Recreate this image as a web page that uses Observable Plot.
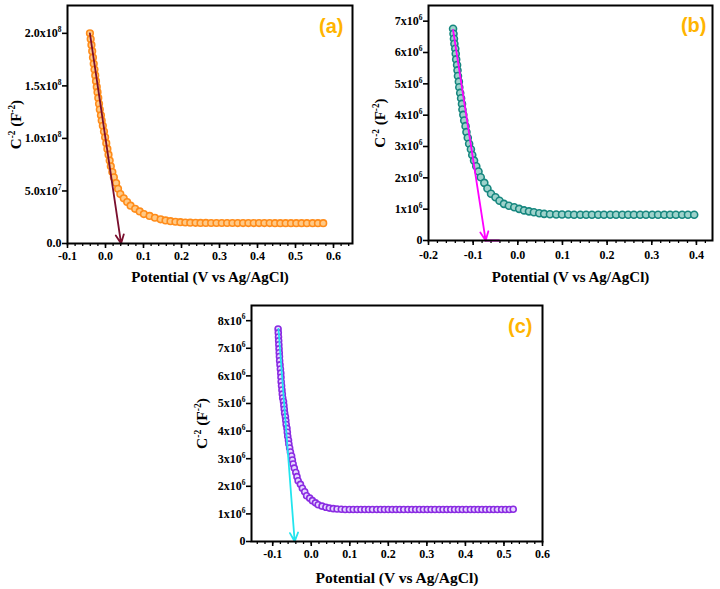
<!DOCTYPE html>
<html><head><meta charset="utf-8">
<script src="https://cdn.jsdelivr.net/npm/d3@7"></script>
<script src="https://cdn.jsdelivr.net/npm/@observablehq/plot@0.6"></script>
<style>
html,body{margin:0;padding:0;background:#fff;}
#wrap{position:relative;width:720px;height:589px;overflow:hidden;background:#fff;}
.panel{position:absolute;}
.panel svg{font-family:'Liberation Serif','DejaVu Serif',serif !important;font-weight:bold !important;}
</style></head><body><div id="wrap"></div>
<script>
// ---------- Panel (a): potential (V) and C^-2 (x10^6 F^-2) ----------
const aV = [-0.041,-0.039,-0.037,-0.035,-0.033,-0.031,-0.029,-0.027,-0.025,-0.023,-0.021,-0.019,-0.017,-0.015,-0.012,-0.010,-0.007,-0.004,-0.001,0.002,0.005,0.008,0.011,0.014,0.018,0.022,0.028,0.033,0.039,0.048,0.057,0.066,0.078,0.090,0.101,0.116,0.130,0.145,0.158,0.171,0.184,0.197,0.210,0.223,0.237,0.250,0.264,0.278,0.292,0.306,0.320,0.334,0.348,0.362,0.376,0.390,0.404,0.418,0.432,0.446,0.460,0.474,0.488,0.502,0.516,0.530,0.545,0.559,0.573];
const aC = [200,194.5,189,183,177,171,165.5,160,154.5,149,144,138.5,133,127.5,122,117,112,106.5,101,95.5,90,84.5,79,73.5,68,63,57.5,52,47,43,39.5,36,33,30.5,28,26.2,24.5,23,22,21.2,20.7,20.3,20.0,19.8,19.7,19.6,19.6,19.5,19.5,19.5,19.5,19.5,19.4,19.4,19.4,19.4,19.4,19.4,19.4,19.3,19.3,19.3,19.3,19.3,19.3,19.3,19.3,19.3,19.3];
const aArrow = {x1:-0.041, y1:200, x2:0.041, y2:0};
const aFit = {x:[0.215,0.373], y:[19.5,19.4]};
const aXTicks = [-0.1,0,0.1,0.2,0.3,0.4,0.5,0.6];
const aYTicks = [0,50,100,150,200];
const aYLabels = ["0.0","5.0x10^7","1.0x10^8","1.5x10^8","2.0x10^8"];

// ---------- Panel (b): potential (V) and C^-2 (x10^6 F^-2) ----------
const bV = [-0.145,-0.144,-0.143,-0.142,-0.140,-0.139,-0.138,-0.136,-0.135,-0.134,-0.132,-0.131,-0.129,-0.127,-0.125,-0.124,-0.122,-0.120,-0.117,-0.115,-0.112,-0.109,-0.105,-0.102,-0.098,-0.093,-0.088,-0.083,-0.075,-0.068,-0.060,-0.050,-0.041,-0.031,-0.020,-0.008,0.003,0.014,0.025,0.036,0.048,0.059,0.072,0.086,0.099,0.113,0.126,0.140,0.153,0.166,0.180,0.193,0.207,0.220,0.234,0.247,0.260,0.274,0.287,0.301,0.314,0.328,0.341,0.354,0.368,0.381,0.395];
const bC = [6.76,6.60,6.44,6.28,6.12,5.96,5.78,5.60,5.43,5.25,5.07,4.89,4.71,4.54,4.36,4.18,4.01,3.83,3.65,3.46,3.28,3.09,2.91,2.73,2.55,2.37,2.20,2.02,1.84,1.66,1.49,1.38,1.27,1.17,1.11,1.06,1.01,0.96,0.93,0.90,0.87,0.85,0.84,0.83,0.83,0.83,0.82,0.82,0.82,0.82,0.82,0.82,0.82,0.82,0.82,0.82,0.82,0.82,0.82,0.82,0.82,0.82,0.82,0.82,0.82,0.82,0.82];
const bArrow = {x1:-0.145, y1:6.72, x2:-0.072, y2:0};
const bFit = {x:[0.1,0.4], y:[0.82,0.82]};
const bBase = {x:[-0.072,-0.042], y:[0,0]};
const bXTicks = [-0.2,-0.1,0,0.1,0.2,0.3,0.4];
const bYTicks = [0,1,2,3,4,5,6,7];
const bYLabels = ["0","1x10^6","2x10^6","3x10^6","4x10^6","5x10^6","6x10^6","7x10^6"];

// ---------- Panel (c): potential (V) and C^-2 (x10^6 F^-2) ----------
const cV = [-0.086,-0.0855,-0.085,-0.0845,-0.084,-0.0835,-0.083,-0.0825,-0.082,-0.081,-0.080,-0.079,-0.0785,-0.078,-0.077,-0.076,-0.075,-0.074,-0.072,-0.071,-0.070,-0.069,-0.067,-0.066,-0.065,-0.063,-0.062,-0.061,-0.059,-0.058,-0.056,-0.054,-0.051,-0.049,-0.047,-0.044,-0.040,-0.037,-0.034,-0.028,-0.023,-0.017,-0.012,-0.004,0.003,0.011,0.018,0.028,0.038,0.047,0.057,0.067,0.078,0.088,0.099,0.109,0.119,0.129,0.139,0.149,0.159,0.170,0.180,0.190,0.200,0.210,0.220,0.230,0.240,0.251,0.261,0.271,0.281,0.291,0.301,0.311,0.321,0.332,0.342,0.352,0.362,0.372,0.382,0.392,0.402,0.413,0.423,0.433,0.443,0.453,0.463,0.473,0.483,0.494,0.504,0.514,0.524];
const cC = [7.70,7.56,7.41,7.27,7.13,6.98,6.84,6.70,6.55,6.40,6.25,6.10,5.95,5.79,5.64,5.49,5.34,5.20,5.07,4.93,4.79,4.65,4.52,4.38,4.24,4.10,3.96,3.81,3.67,3.53,3.39,3.24,3.10,2.95,2.81,2.66,2.50,2.35,2.20,2.07,1.93,1.80,1.66,1.57,1.48,1.40,1.33,1.28,1.24,1.21,1.19,1.18,1.17,1.16,1.16,1.16,1.16,1.16,1.16,1.16,1.16,1.16,1.16,1.16,1.16,1.16,1.16,1.16,1.16,1.16,1.16,1.16,1.16,1.16,1.16,1.16,1.16,1.16,1.16,1.16,1.16,1.16,1.16,1.16,1.16,1.16,1.16,1.16,1.16,1.16,1.16,1.16,1.16,1.16,1.16,1.16,1.17];
const cArrow = {x1:-0.085, y1:7.7, x2:-0.043, y2:0};
const cXTicks = [-0.1,0,0.1,0.2,0.3,0.4,0.5,0.6];
const cYTicks = [0,1,2,3,4,5,6,7,8];
const cYLabels = ["0","1x10^6","2x10^6","3x10^6","4x10^6","5x10^6","6x10^6","7x10^6","8x10^6"];

const xTitle = "Potential (V vs Ag/AgCl)";
const yTitle = "C^-2 (F^-2)";
const SERIF = "Liberation Serif, DejaVu Serif, serif";
const NS = "http://www.w3.org/2000/svg";

// turn "a^b" into real superscript tspans
function supify(svg) {
  svg.querySelectorAll("text").forEach(t => {
    const s = t.textContent;
    if (!s.includes("^")) return;
    const fs = parseFloat(getComputedStyle(t).fontSize) || 12;
    const parts = s.split(/(\^-?\d+)/).filter(p => p !== "");
    t.textContent = "";
    let raised = false;
    parts.forEach(p => {
      const ts = document.createElementNS(NS, "tspan");
      if (p[0] === "^") {
        ts.textContent = p.slice(1);
        ts.setAttribute("font-size", (fs * 0.62).toFixed(2));
        ts.setAttribute("dy", (-fs * 0.42).toFixed(2));
        raised = true;
      } else {
        ts.textContent = p;
        if (raised) ts.setAttribute("dy", (fs * 0.42).toFixed(2));
        raised = false;
      }
      t.appendChild(ts);
    });
  });
}

function panel(o) {
  const pts = o.V.map((v, i) => ({x: v, y: o.C[i]}));
  const labelMap = new Map(o.yTicks.map((t, i) => [t, o.yLabels[i]]));
  const minor = d3.range(Math.ceil(o.xDomain[0] / 0.02 - 1e-9), Math.floor(o.xDomain[1] / 0.02 + 1e-9) + 1).map(k => +(k * 0.02).toFixed(2));
  const marks = [
    Plot.axisX(minor, {tickSize: 3, tickFormat: () => "", label: null, strokeWidth: 1.3}),
    Plot.axisX(o.xTicks, {tickSize: 5, tickPadding: o.xPad, tickFormat: d => d.toFixed(1), label: null, strokeWidth: 1.6, fontSize: o.tickFont, fontFamily: SERIF, fontWeight: "bold"}),
    Plot.axisY(o.yTicks, {tickSize: 5, tickPadding: 1, tickFormat: d => labelMap.get(d), label: null, strokeWidth: 1.6, fontSize: o.tickFont, fontFamily: SERIF, fontWeight: "bold"})
  ];
  (o.lines || []).forEach(l => marks.push(Plot.line(l.x.map((x, i) => ({x, y: l.y[i]})), {x: "x", y: "y", stroke: l.color, strokeWidth: l.w})));
  marks.push(Plot.dot(pts, {x: "x", y: "y", r: o.r, stroke: o.color, fill: o.fill, strokeWidth: 1.6}));
  marks.push(Plot.arrow([o.arrow], {x1: "x1", y1: "y1", x2: "x2", y2: "y2", stroke: o.arrowColor, strokeWidth: 1.8, headLength: 8, headAngle: 50}));
  marks.push(Plot.frame({stroke: "#000", strokeWidth: 2}));
  marks.push(Plot.text([o.tag], {frameAnchor: "top-right", text: d => d, dx: o.tagDx, dy: o.tagDy, textAnchor: "end", lineAnchor: "middle", fill: "#FFB400", fontFamily: "Liberation Sans, Arial, sans-serif", fontWeight: "bold", fontSize: 20}));
  marks.push(Plot.text([xTitle], {frameAnchor: "bottom", text: d => d, dy: o.xTitleDy, textAnchor: "middle", lineAnchor: "middle", fontSize: o.titleFont, fontFamily: SERIF, fontWeight: "bold", fill: "#000"}));
  marks.push(Plot.text([yTitle], {frameAnchor: "left", text: d => d, dx: o.yTitleDx, rotate: -90, textAnchor: "middle", lineAnchor: "middle", fontSize: o.titleFont, fontFamily: SERIF, fontWeight: "bold", fill: "#000"}));
  const svg = Plot.plot({
    width: o.w, height: o.h,
    marginLeft: o.m[0], marginRight: o.m[1], marginTop: o.m[2], marginBottom: o.m[3],
    style: {fontSize: o.tickFont + "px", color: "#000", background: "transparent"},
    x: {domain: o.xDomain},
    y: {domain: o.yDomain},
    marks
  });
  svg.setAttribute("font-family", SERIF);
  svg.setAttribute("font-weight", "bold");
  const div = document.createElement("div");
  div.className = "panel";
  div.style.left = o.left + "px";
  div.style.top = o.top + "px";
  div.appendChild(svg);
  document.getElementById("wrap").appendChild(div);
  supify(svg);
}

panel({V: aV, C: aC, xDomain: [-0.1, 0.65], yDomain: [0, 226.5], xTicks: aXTicks, yTicks: aYTicks, yLabels: aYLabels,
  color: "#FF8C1A", fill: "#FFC986", r: 3.3, arrow: aArrow, arrowColor: "#7A0F2E", tag: "(a)",
  lines: [{x: aFit.x, y: aFit.y, color: "#E0403A", w: 1}],
  left: 0, top: 0, w: 360, h: 290, m: [67, 8, 5, 47], xPad: 3, tickFont: 12, titleFont: 15,
  xTitleDy: 34, yTitleDx: -51, tagDx: -9, tagDy: 21});

panel({V: bV, C: bC, xDomain: [-0.2, 0.436], yDomain: [0, 7.5], xTicks: bXTicks, yTicks: bYTicks, yLabels: bYLabels,
  color: "#17877F", fill: "#9FD3CC", r: 3.5, arrow: bArrow, arrowColor: "#FF00FF", tag: "(b)",
  lines: [{x: bFit.x, y: bFit.y, color: "#E0403A", w: 1}, {x: bBase.x, y: bBase.y, color: "#FF00FF", w: 2}],
  left: 360, top: 0, w: 360, h: 290, m: [68, 8, 5, 50], xPad: 5, tickFont: 12, titleFont: 15,
  xTitleDy: 37, yTitleDx: -48, tagDx: -6, tagDy: 20});

panel({V: cV, C: cC, xDomain: [-0.155, 0.6], yDomain: [0, 8.55], xTicks: cXTicks, yTicks: cYTicks, yLabels: cYLabels,
  color: "#8A2BE2", fill: "#E6D6FF", r: 3, arrow: cArrow, arrowColor: "#22E5EE", tag: "(c)",
  lines: [],
  left: 180, top: 290, w: 380, h: 299, m: [71, 18, 15, 48], xPad: 3, tickFont: 12, titleFont: 15.5,
  xTitleDy: 37, yTitleDx: -49, tagDx: -10, tagDy: 21.5});
</script></body></html>
